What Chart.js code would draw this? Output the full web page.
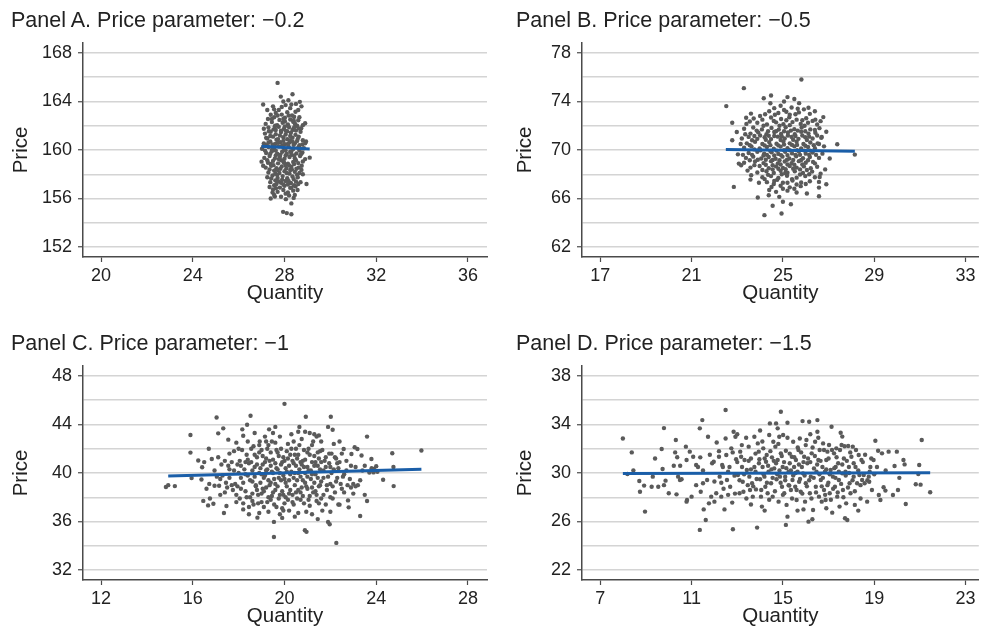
<!DOCTYPE html>
<html>
<head>
<meta charset="utf-8">
<title>Price vs Quantity</title>
<script src="https://cdn.jsdelivr.net/npm/chart.js@4.4.1/dist/chart.umd.min.js"></script>
<style>
  html, body { margin: 0; padding: 0; background: #fff; }
  #page { position: relative; width: 981px; height: 630px; overflow: hidden;
          font-family: "Liberation Sans", Arial, Helvetica, sans-serif; }
  .panel { position: absolute; }
  .panel canvas { position: absolute; left: 0; top: 0; }
  .panel-title { position: absolute; top: 8px; font-size: 21.5px; line-height: 24px;
                 color: #222; white-space: nowrap; }
</style>
</head>
<body>
<div id="page">
  <div class="panel" style="left:0;top:0;width:490px;height:307px">
    <canvas id="chart-a" width="490" height="307"></canvas>
    <div class="panel-title" id="title-a" style="left:11px"></div>
  </div>
  <div class="panel" style="left:490px;top:0;width:491px;height:307px">
    <canvas id="chart-b" width="491" height="307"></canvas>
    <div class="panel-title" id="title-b" style="left:26px"></div>
  </div>
  <div class="panel" style="left:0;top:323px;width:490px;height:307px">
    <canvas id="chart-c" width="490" height="307"></canvas>
    <div class="panel-title" id="title-c" style="left:11px"></div>
  </div>
  <div class="panel" style="left:490px;top:323px;width:491px;height:307px">
    <canvas id="chart-d" width="491" height="307"></canvas>
    <div class="panel-title" id="title-d" style="left:26px"></div>
  </div>
</div>
<script>
// ---- data ----
const panelTitles = [
  "Panel A. Price parameter: \u22120.2",
  "Panel B. Price parameter: \u22120.5",
  "Panel C. Price parameter: \u22121",
  "Panel D. Price parameter: \u22121.5",
];
const xAxisTitle = "Quantity";
const yAxisTitle = "Price";

const xTicksA = [20, 24, 28, 32, 36];
const xTicksB = [17, 21, 25, 29, 33];
const xTicksC = [12, 16, 20, 24, 28];
const xTicksD = [7, 11, 15, 19, 23];

const yTicksA = [152, 154, 156, 158, 160, 162, 164, 166, 168];
const yTicksB = [62, 64, 66, 68, 70, 72, 74, 76, 78];
const yTicksC = [32, 34, 36, 38, 40, 42, 44, 46, 48];
const yTicksD = [22, 24, 26, 28, 30, 32, 34, 36, 38];

const yLabelsA = [152, 156, 160, 164, 168];
const yLabelsB = [62, 66, 70, 74, 78];
const yLabelsC = [32, 36, 40, 44, 48];
const yLabelsD = [22, 26, 30, 34, 38];

// fitted regression lines [quantity, price]
const fitA = [[27.0, 160.3], [29.1, 160.08]];
const fitB = [[22.5, 70.05], [28.15, 69.9]];
const fitC = [[14.93, 39.75], [25.97, 40.3]];
const fitD = [[7.99, 29.95], [21.45, 30.03]];

// simulated observations [quantity, price]
const pointsA = [
  [27.70,165.53],[28.35,164.60],[27.07,163.75],[27.84,164.40],[28.17,164.10],[28.67,163.97],[28.74,163.60],
  [27.00,159.04],[27.07,158.70],[29.10,159.37],[28.96,157.20],[28.74,158.36],[27.40,156.00],[27.94,154.90],
  [28.10,154.80],[28.30,154.70],[28.06,155.95],[28.30,155.60],[28.80,160.80],[28.94,160.70],[28.80,162.05],
  [28.73,161.80],[28.57,156.70],[28.45,156.30],[27.58,156.16],[27.48,156.50],[27.63,156.85],
  [27.95,164.0],[28.05,163.7],[28.5,163.8],[28.6,163.3],[27.55,163.35],[27.4,162.9],
  [27.62,163.05],[27.88,162.92],[28.12,163.12],[28.33,162.85],[28.48,163.15],
  [27.28,162.55],[27.55,162.7],[27.78,162.48],[28.02,162.66],[28.25,162.52],[28.42,162.74],[28.6,162.45],
  [27.18,162.15],[27.45,162.3],[27.68,162.05],[27.92,162.25],[28.15,162.1],[28.38,162.32],[28.55,162.0],[28.9,162.2],
  [27.3,161.85],[27.52,161.7],[27.75,161.92],[27.98,161.75],[28.2,161.88],[28.35,161.65],[28.62,161.78],
  [27.15,161.35],[27.4,161.5],[27.62,161.3],[27.85,161.48],[28.05,161.28],[28.28,161.42],[28.48,161.25],[28.7,161.5],
  [27.25,160.95],[27.5,161.1],[27.72,160.9],[27.95,161.05],[28.12,160.88],[28.35,161.02],[28.58,160.92],
  [27.1,160.55],[27.38,160.7],[27.6,160.5],[27.82,160.65],[28.02,160.48],[28.22,160.62],[28.45,160.55],[28.65,160.4],
  [27.02,160.1],[27.3,160.25],[27.55,160.05],[27.75,160.3],[27.98,160.12],[28.18,160.28],[28.38,160.08],[28.6,160.2],[28.85,160.15],
  [27.2,159.75],[27.45,159.9],[27.68,159.7],[27.9,159.85],[28.1,159.68],[28.3,159.88],[28.52,159.72],[28.78,159.8],
  [27.12,159.35],[27.35,159.5],[27.58,159.3],[27.8,159.45],[28.0,159.28],[28.22,159.42],[28.45,159.32],[28.68,159.5],[28.9,159.25],
  [27.28,158.95],[27.5,159.1],[27.72,158.9],[27.95,159.05],[28.15,158.88],[28.38,159.02],[28.6,158.92],
  [27.18,158.55],[27.42,158.7],[27.65,158.5],[27.88,158.65],[28.08,158.48],[28.3,158.62],[28.52,158.45],[28.75,158.7],
  [27.3,158.15],[27.55,158.3],[27.78,158.1],[28.0,158.25],[28.22,158.05],[28.45,158.2],[28.65,158.1],
  [27.25,157.75],[27.48,157.9],[27.7,157.7],[27.92,157.85],[28.12,157.68],[28.35,157.82],[28.58,157.75],
  [27.38,157.35],[27.6,157.5],[27.85,157.3],[28.05,157.45],[28.28,157.28],[28.5,157.4],[28.7,157.35],
  [27.35,156.95],[27.55,157.1],[27.8,156.9],[28.0,157.05],[28.25,156.88],[28.48,157.0],
  [27.7,156.55],[27.95,156.7],[28.15,156.5],[28.38,156.65],
  [27.85,156.15],[28.2,156.25],[28.4,156.05],
  [27.5,163.6],[27.75,163.3],[28.25,163.45],[28.02,162.35],[27.6,162.0],[28.48,162.0],[27.85,161.6],[28.12,161.55],
  [27.38,161.15],[28.5,161.6],[27.65,160.85],[28.25,160.8],[27.9,160.4],[28.4,160.42],[27.45,160.0],[28.05,159.95],
  [28.65,159.95],[27.62,159.55],[28.3,159.6],[27.85,159.15],[28.5,159.15],[27.4,158.85],[28.05,158.75],[28.25,158.35],
  [27.7,158.35],[27.9,157.55],[28.4,157.6],[27.65,157.2],[28.15,157.15],[27.55,156.3],[28.6,157.2],[27.2,160.4],
  [28.8,159.05],[27.1,161.75],[28.8,158.0],
  [27.25,163.3],[27.45,162.55],[27.7,162.85],[27.95,162.55],[28.18,162.85],[28.4,162.45],[28.65,162.7],[27.32,161.55],
  [27.58,161.95],[27.8,161.2],[28.02,161.95],[28.25,161.15],[28.42,161.85],[28.62,161.1],[27.2,161.0],[27.48,160.45],
  [27.72,160.6],[27.95,160.75],[28.15,160.5],[28.35,160.7],[28.55,160.75],[28.78,160.45],[27.15,159.95],[27.38,159.7],
  [27.62,159.95],[27.82,159.62],[28.05,159.55],[28.25,159.85],[28.42,159.55],[28.72,159.65],[27.25,159.15],[27.52,158.75],
  [27.75,159.25],[27.98,158.95],[28.2,158.72],[28.42,158.85],[28.62,158.55],[27.35,158.4],[27.6,158.05],[27.82,158.45],
  [28.1,158.1],[28.32,158.4],[28.55,157.95],[27.42,157.65],[27.68,157.95],[27.95,157.15],[28.18,157.45],[28.42,157.1],
  [27.5,156.75],[27.75,157.4],[28.05,156.4],[28.3,156.9],[27.62,161.65],[28.05,161.58],[28.45,162.2],[27.88,163.55],
  [28.3,163.75],[27.3,160.6],[28.9,160.55],[27.08,160.3],
];

const pointsB = [
  [25.81,75.81],[23.29,75.10],[22.52,73.62],[22.78,72.25],[22.85,66.96],[27.38,70.47],[28.15,69.62],[24.19,64.63],
  [24.94,64.77],[24.55,65.40],[25.35,65.53],[25.00,65.73],[24.84,66.14],[23.90,66.08],[24.38,66.27],[26.05,66.41],
  [26.58,66.19],[26.58,66.90],[26.90,67.18],[24.16,74.27],[24.48,74.49],[25.20,74.36],[25.71,73.86],[26.12,73.48],
  [26.77,72.71],[26.65,72.38],[23.39,72.66],[22.98,71.48],[22.78,70.80],[23.03,69.64],[23.07,68.88],[23.17,68.74],
  [23.61,67.92],[23.58,67.56],[26.65,68.05],[26.61,67.78],[26.58,67.37],[26.50,71.20],[26.70,71.07],[26.58,70.50],
  [26.73,69.70],
  [24.62,73.45],[25.05,73.3],[25.38,73.5],[25.92,73.35],[24.9,73.65],
  [24.22,72.95],[24.8,73.05],[25.3,72.9],[25.7,73.1],[26.18,72.98],
  [23.72,72.6],[24.1,72.5],[24.48,72.68],[24.92,72.55],[25.28,72.7],[25.6,72.5],[26.02,72.62],[26.42,72.5],
  [23.4,72.15],[23.88,72.25],[24.3,72.1],[24.7,72.28],[25.02,72.12],[25.42,72.3],[25.78,72.15],[26.1,72.25],[26.5,72.1],
  [23.3,71.75],[23.7,71.85],[24.08,71.7],[24.5,71.82],[24.82,71.68],[25.12,71.88],[25.5,71.72],[25.82,71.85],[26.2,71.7],[26.6,71.8],
  [23.58,71.35],[23.92,71.45],[24.28,71.3],[24.62,71.48],[24.92,71.32],[25.22,71.45],[25.52,71.3],[25.8,71.5],[26.12,71.35],[26.42,71.42],
  [23.2,70.95],[23.5,71.08],[23.88,70.92],[24.2,71.05],[24.48,70.9],[24.78,71.1],[25.08,70.95],[25.38,71.08],[25.68,70.92],[25.98,71.05],[26.3,70.95],[26.68,71.0],
  [23.42,70.55],[23.78,70.68],[24.1,70.5],[24.4,70.65],[24.72,70.52],[25.02,70.7],[25.3,70.55],[25.6,70.68],[25.9,70.5],[26.2,70.62],[26.52,70.55],
  [23.3,70.18],[23.62,70.3],[23.98,70.12],[24.3,70.25],[24.6,70.1],[24.9,70.28],[25.2,70.15],[25.5,70.3],[25.8,70.12],[26.1,70.25],[26.4,70.15],
  [23.5,69.75],[23.88,69.85],[24.18,69.7],[24.5,69.82],[24.8,69.68],[25.1,69.85],[25.4,69.72],[25.7,69.88],[26.0,69.7],[26.3,69.8],
  [23.38,69.35],[23.7,69.45],[24.05,69.3],[24.38,69.42],[24.68,69.28],[24.98,69.45],[25.28,69.3],[25.58,69.48],[25.88,69.32],[26.18,69.42],[26.58,69.35],
  [23.3,68.95],[23.78,69.05],[24.15,68.92],[24.48,69.08],[24.78,68.9],[25.08,69.05],[25.38,68.92],[25.7,69.08],[26.0,68.95],[26.32,69.02],
  [23.58,68.55],[23.98,68.68],[24.38,68.5],[24.7,68.65],[25.0,68.52],[25.3,68.68],[25.6,68.55],[25.92,68.65],[26.22,68.5],[26.5,68.62],
  [23.88,68.15],[24.28,68.25],[24.6,68.1],[24.9,68.28],[25.2,68.12],[25.52,68.25],[25.88,68.1],[26.28,68.22],
  [24.1,67.75],[24.48,67.85],[24.8,67.7],[25.18,67.88],[25.6,67.72],[25.98,67.85],[26.4,67.75],
  [24.3,67.35],[24.62,67.45],[25.0,67.3],[25.42,67.48],[25.8,67.32],[26.18,67.42],
  [24.5,66.95],[24.9,67.05],[25.3,66.92],[25.78,67.02],
  [24.7,66.55],[25.2,66.65],[25.6,66.5],
  [24.65,72.9],[25.55,72.95],[24.35,71.55],[25.05,71.55],[25.65,71.6],[24.0,71.2],[24.62,71.15],[25.22,71.2],
  [25.85,71.2],[23.65,70.8],[24.25,70.85],[24.9,70.82],[25.45,70.85],[26.05,70.82],[24.45,70.4],[25.05,70.45],
  [25.62,70.42],[24.02,69.98],[24.72,69.95],[25.3,69.98],[25.95,69.95],[24.3,69.6],[24.92,69.58],[25.55,69.6],
  [26.15,69.6],[23.9,69.2],[24.55,69.18],[25.18,69.2],[25.8,69.18],[24.25,68.78],[24.9,68.8],[25.5,68.78],
  [24.55,68.4],[25.12,68.42],[25.75,68.4],[24.95,68.0],[25.4,67.6],[24.75,67.55],
  [24.4,73.2],[25.15,73.15],[25.65,73.4],[24.0,72.8],[24.6,72.4],[25.15,72.45],[25.85,72.45],[23.55,72.35],
  [24.15,72.0],[24.85,72.0],[25.3,72.05],[25.95,72.0],[26.3,72.4],[23.85,71.6],[24.7,71.55],[25.35,71.6],
  [25.98,71.55],[26.4,71.65],[23.75,71.15],[24.38,71.18],[24.95,71.12],[25.55,71.15],[26.15,71.1],[23.55,70.4],
  [24.2,70.38],[24.8,70.38],[25.4,70.42],[25.98,70.35],[26.35,70.4],[23.75,70.05],[24.45,69.92],[25.05,69.98],
  [25.62,69.98],[26.2,69.95],[23.65,69.6],[24.15,69.55],[24.62,69.55],[25.2,69.58],[25.75,69.6],[26.45,69.6],
  [23.55,69.15],[24.25,69.2],[24.85,69.15],[25.45,69.18],[26.1,69.15],[23.75,68.75],[24.55,68.75],[25.2,68.8],
  [25.85,68.8],[26.4,68.9],[24.1,68.35],[24.8,68.45],[25.45,68.45],[26.05,68.35],[24.35,67.95],[25.1,68.1],
  [25.75,67.98],[26.15,68.0],[24.6,67.2],[25.2,67.3],[25.6,67.15],[26.0,67.2],[24.2,67.6],[25.0,66.8],
  [25.5,66.8],[24.4,66.7],[23.95,67.3],[23.45,68.3],[23.25,69.6],[23.15,70.5],[23.35,71.3],[23.6,73.0],
  [24.45,73.85],[25.05,74.0],[25.5,74.2],[26.4,73.2],[26.8,70.3],[26.9,71.5],[27.05,69.3],[26.85,68.4],
];

const pointsC = [
  [14.83,38.84],[14.93,39.0],[15.22,38.92],[15.9,43.13],[15.9,41.68],[15.95,39.58],[16.24,41.03],[16.38,39.47],
  [16.41,40.48],[16.46,37.7],[16.6,38.7],[16.72,39.1],[16.67,37.33],[16.83,41.16],[16.9,37.47],[16.75,37.9],
  [17.04,44.58],[17.11,43.27],[17.11,41.3],[17.05,39.7],[17.15,38.95],[17.2,39.5],[17.25,40.7],[17.33,43.68],
  [17.36,36.7],[17.47,37.28],[17.4,38.4],[17.45,39.2],[17.55,42.75],[17.55,40.6],[17.6,41.6],[17.7,40.9],
  [17.75,38.6],[17.8,40.2],[17.85,39.1],[17.9,38.2],[17.95,40.7],[18.0,42.0],[18.05,41.0],[18.1,39.6],
  [18.16,43.6],[18.2,43.07],[18.2,37.0],[18.25,40.3],[18.3,38.5],[18.35,41.5],[18.37,43.98],[18.4,39.8],
  [18.45,36.6],[18.5,38.0],[18.52,44.72],[18.55,40.9],[18.6,37.7],[18.6,39.3],[18.65,42.2],[18.7,40.5],
  [18.75,38.9],[18.8,41.3],[18.82,36.32],[18.85,37.5],[18.9,40.0],[18.92,42.6],[18.95,39.2],[19.0,41.9],
  [19.0,38.3],[19.05,40.7],[19.1,37.2],[19.1,39.6],[19.15,43.0],[19.2,41.2],[19.2,38.8],[19.25,40.3],
  [19.3,42.3],[19.33,43.6],[19.35,39.0],[19.4,37.8],[19.4,41.7],[19.45,40.1],[19.5,38.4],[19.5,43.3],
  [19.54,34.73],[19.54,35.97],[19.55,39.5],[19.6,42.5],[19.6,40.8],[19.65,37.2],[19.7,38.9],[19.75,41.4],
  [19.8,40.0],[19.8,36.6],[19.85,42.0],[19.9,38.5],[19.95,39.8],[20.0,45.7],[20.0,41.0],[20.0,37.5],
  [20.05,40.4],[20.1,38.9],[20.15,42.4],[20.2,39.4],[20.2,36.9],[20.25,41.5],[20.3,40.1],[20.3,43.2],
  [20.35,38.2],[20.4,37.4],[20.4,40.8],[20.45,39.0],[20.5,42.0],[20.55,41.2],[20.6,38.6],[20.6,43.4],
  [20.65,40.3],[20.7,37.8],[20.7,39.7],[20.75,42.8],[20.8,41.0],[20.8,38.1],[20.85,40.5],[20.89,35.28],
  [20.93,44.64],[20.96,35.15],[20.9,39.2],[20.95,36.8],[21.0,41.7],[21.0,38.7],[21.05,40.2],[21.1,43.3],
  [21.1,37.3],[21.15,39.5],[21.2,42.3],[21.2,40.9],[21.25,38.4],[21.3,41.4],[21.35,39.9],[21.4,37.7],
  [21.4,43.0],[21.45,40.6],[21.5,43.1],[21.5,38.9],[21.55,41.8],[21.6,39.3],[21.65,36.9],[21.7,40.2],
  [21.75,41.0],[21.8,37.4],[21.85,38.6],[21.9,43.8],[21.9,35.97],[21.97,35.78],[21.95,40.8],[22.02,44.64],
  [22.0,39.1],[22.05,41.6],[22.1,43.57],[22.1,37.9],[22.15,40.3],[22.2,38.4],[22.25,41.2],[22.26,34.24],
  [22.3,39.6],[22.35,37.4],[22.4,37.39],[22.4,40.9],[22.5,38.7],[22.55,39.7],[22.58,41.98],[22.7,40.2],
  [22.77,37.74],[22.8,37.17],[22.85,39.5],[22.92,41.57],[23.0,38.3],[23.0,39.1],[23.06,42.12],[23.1,40.5],
  [23.18,41.98],[23.2,39.0],[23.3,36.46],[23.36,41.44],[23.5,40.6],[23.6,43.0],[23.6,37.69],[23.7,40.04],
  [23.79,41.16],[23.88,40.05],[23.9,40.34],[24.0,40.56],[24.05,40.1],[24.3,39.44],[24.7,41.63],[24.76,38.92],
  [24.75,40.5],[25.97,41.85],
  [18.1,40.6],[18.3,39.9],[18.45,40.8],[18.6,38.3],[18.7,39.7],[18.8,38.6],[18.9,41.7],[19.0,39.9],
  [19.05,38.7],[19.15,40.9],[19.25,37.6],[19.3,39.4],[19.4,40.6],[19.45,38.1],[19.5,41.1],[19.6,39.1],
  [19.65,41.9],[19.7,40.3],[19.75,37.9],[19.85,39.4],[19.9,40.9],[19.95,38.2],[20.05,39.2],[20.1,41.8],
  [20.15,37.8],[20.2,40.6],[20.25,38.6],[20.35,41.0],[20.45,40.0],[20.5,38.4],[20.55,39.4],[20.6,41.5],
  [20.7,40.9],[20.75,38.8],[20.85,41.9],[20.9,40.0],[21.0,39.7],[21.05,42.0],[21.1,38.1],[21.2,39.9],
  [21.3,40.6],[21.35,38.5],[21.45,41.7],[21.55,39.0],[21.6,40.9],[21.7,38.2],[21.8,41.3],[21.9,39.7],
  [22.0,40.5],[22.1,38.9],[22.2,41.3],[22.3,40.8],[22.45,39.1],[22.6,38.4],[22.7,41.0],[18.4,42.6],
  [18.7,43.3],[19.2,42.6],[19.8,43.0],[20.4,42.6],[20.9,43.4],[21.3,43.2],[17.9,37.6],[18.2,37.5],
  [18.9,36.7],[19.3,36.8],[19.9,36.3],[20.6,36.7],[21.2,36.6],[21.5,37.5],[17.3,39.8],[17.6,39.6],
  [17.2,38.2],[16.95,38.95],[16.5,40.9],[22.9,38.8],[23.1,38.9],[23.4,40.2],[23.8,40.4],
  [17.6,40.3],[17.7,39.0],[17.8,41.8],[17.95,38.9],[18.0,40.0],[18.05,37.9],[18.15,41.9],[18.2,39.2],
  [18.3,40.9],[18.35,38.0],[18.4,41.1],[18.5,39.4],[18.55,42.0],[18.6,40.2],[18.65,37.4],[18.7,41.5],
  [18.75,39.0],[18.8,40.7],[18.85,38.2],[18.9,42.3],[18.95,40.4],[19.0,37.6],[19.05,41.4],[19.1,38.5],
  [19.15,39.8],[19.2,40.2],[19.25,42.0],[19.3,38.0],[19.35,41.0],[19.4,39.2],[19.45,42.6],[19.5,40.0],
  [19.55,37.4],[19.6,38.6],[19.65,40.4],[19.7,41.7],[19.75,39.6],[19.8,38.2],[19.85,40.7],[19.9,37.1],
  [19.95,41.3],[20.0,39.5],[20.05,38.0],[20.1,40.1],[20.15,41.2],[20.2,38.3],[20.25,39.9],[20.3,42.0],
  [20.35,37.6],[20.4,39.6],[20.45,41.5],[20.5,40.6],[20.55,37.9],[20.6,40.0],[20.65,42.3],[20.7,38.4],
  [20.75,40.7],[20.8,39.4],[20.85,37.5],[20.9,41.1],[20.95,38.9],[21.0,40.5],[21.05,37.8],[21.1,41.5],
  [21.15,40.2],[21.2,38.8],[21.25,42.6],[21.3,39.2],[21.35,40.9],[21.4,38.2],[21.45,39.6],[21.5,41.2],
  [21.55,40.3],[21.6,37.9],[21.65,41.9],[21.7,39.6],[21.8,40.5],[21.85,39.0],[21.95,41.6],[22.0,38.0],
  [22.05,40.0],[22.15,42.4],[22.25,39.3],[22.35,40.4],[22.5,41.6],[22.6,39.9],[22.75,39.0],[22.9,40.6],
  [17.4,41.0],[17.5,38.8],[17.9,42.5],[18.1,38.7],[18.45,37.2],[19.95,36.9],[20.45,36.4],[21.45,36.2],
  [20.65,43.8],[19.6,43.8],[21.6,42.6],[22.4,42.6],[23.3,39.4],[16.95,40.2],[16.7,42.0],[23.5,38.2],
  [22.0,36.8],
];

const pointsD = [
  [7.99,32.85],[8.38,31.7],[8.45,30.2],[8.19,29.92],[8.71,29.34],[8.74,28.46],[8.92,28.96],[8.96,26.82],
  [9.25,28.87],[9.4,31.2],[9.54,28.87],[9.69,31.98],[9.73,30.33],[9.79,33.7],[9.86,29.37],[9.79,29.0],
  [10.0,28.33],[10.22,30.6],[10.28,31.7],[10.31,32.72],[10.34,28.24],[10.37,31.3],[10.41,29.7],[10.49,29.42],
  [10.56,29.48],[10.75,32.17],[10.78,31.07],[10.8,27.78],[10.78,27.64],[10.92,31.76],[11.0,28.05],[11.07,31.34],
  [11.2,30.66],[11.28,30.5],[11.36,33.68],[11.38,31.29],[11.47,34.36],[11.36,25.31],[11.4,28.46],[11.5,29.15],
  [11.53,27.0],[11.62,26.13],[11.68,29.42],[11.72,32.99],[11.76,27.5],[11.86,28.05],[11.9,30.8],[11.97,30.93],
  [12.0,27.64],[12.08,28.33],[12.1,32.52],[12.2,31.34],[12.23,29.7],[12.3,29.2],[12.3,28.05],[12.34,30.66],
  [12.37,30.5],[12.44,27.0],[12.49,35.19],[12.49,32.85],[12.52,31.48],[12.55,29.42],[12.6,28.2],[12.66,30.5],
  [12.69,28.87],[12.74,32.03],[12.78,27.56],[12.81,25.36],[12.84,33.4],[12.88,29.78],[12.92,32.99],[12.95,31.13],
  [13.03,29.84],[13.1,28.33],[13.13,31.76],[13.17,31.34],[13.21,30.5],[13.24,29.28],[13.27,28.46],[13.32,31.07],
  [13.39,32.9],[13.42,30.25],[13.46,29.0],[13.5,32.17],[13.53,29.7],[13.56,28.6],[13.6,31.2],[13.65,29.15],
  [13.68,28.05],[13.75,32.99],[13.75,30.5],[13.8,30.1],[13.82,28.65],[13.87,25.5],[13.9,32.44],[13.94,31.76],
  [13.97,31.13],[14.0,29.48],[14.04,28.05],[14.08,27.23],[14.11,30.5],[14.14,32.03],[14.19,29.7],[14.23,28.87],
  [14.26,30.93],[14.29,31.48],[14.33,28.33],[14.37,30.1],[14.4,33.13],[14.43,34.09],[14.48,29.15],[14.52,31.29],
  [14.55,28.05],[14.58,32.58],[14.62,30.38],[14.67,32.17],[14.7,34.09],[14.72,29.48],[14.77,31.07],[14.77,33.68],
  [14.81,27.64],[14.84,32.99],[14.87,29.7],[14.91,35.05],[14.91,31.62],[14.96,28.87],[14.99,30.5],[15.01,33.13],
  [15.06,28.33],[15.1,29.7],[15.13,31.84],[15.13,25.72],[15.16,27.37],[15.2,26.4],[15.2,34.14],[15.25,30.1],
  [15.28,28.96],[15.3,30.8],[15.35,28.6],[15.39,31.34],[15.42,29.42],[15.45,32.58],[15.49,30.5],[15.54,28.87],
  [15.57,31.07],[15.6,27.78],[15.64,30.1],[15.64,26.9],[15.68,31.89],[15.71,29.28],[15.74,32.85],[15.78,28.46],
  [15.83,30.5],[15.86,34.28],[15.88,29.97],[15.93,31.34],[15.97,27.64],[16.0,29.15],[16.03,32.72],[16.07,30.8],
  [16.12,25.99],[16.15,34.23],[16.18,28.33],[16.22,29.7],[16.26,31.62],[16.29,26.19],[16.32,26.95],[16.36,30.38],
  [16.41,32.58],[16.44,28.87],[16.47,30.1],[16.51,34.36],[16.51,33.4],[16.55,31.07],[16.58,28.05],[16.61,31.89],
  [16.66,29.42],[16.7,27.64],[16.73,30.5],[16.76,32.44],[16.8,28.6],[16.84,30.1],[16.87,27.78],[16.9,31.07],
  [16.95,31.76],[16.99,29.2],[17.02,32.31],[17.05,28.33],[17.09,30.25],[17.13,33.81],[17.16,26.73],[17.19,29.7],
  [17.24,31.62],[17.28,28.87],[17.31,30.5],[17.34,32.03],[17.38,28.05],[17.42,30.8],[17.45,29.42],[17.48,27.23],
  [17.53,33.32],[17.57,32.31],[17.6,29.97],[17.63,28.6],[17.67,31.2],[17.72,26.27],[17.74,30.1],[17.77,27.5],
  [17.82,26.13],[17.86,32.22],[17.89,30.5],[17.92,29.15],[17.96,28.33],[18.0,31.34],[18.06,32.17],[18.1,29.7],
  [18.15,27.37],[18.18,30.5],[18.25,29.15],[18.3,26.9],[18.32,31.48],[18.35,29.84],[18.44,31.07],[18.47,29.42],
  [18.54,29.84],[18.58,29.15],[18.69,27.64],[18.76,29.7],[18.78,29.28],[18.83,30.5],[18.87,31.2],[18.97,31.07],
  [19.05,32.66],[19.12,30.5],[19.17,31.84],[19.2,28.19],[19.27,27.78],[19.34,31.62],[19.41,28.82],[19.49,28.55],
  [19.63,31.76],[19.82,28.19],[19.89,30.58],[19.99,31.76],[20.04,28.6],[20.28,31.07],[20.33,30.71],[20.38,27.45],
  [20.82,29.07],[20.93,29.92],[20.97,30.66],[21.03,29.04],[21.08,32.72],[21.45,28.41],
  [12.6,30.1],[12.8,31.7],[12.9,28.3],[13.0,30.9],[13.1,29.4],[13.2,32.3],[13.3,29.9],[13.4,27.9],
  [13.5,31.0],[13.6,30.3],[13.7,28.9],[13.8,31.6],[13.85,29.5],[13.95,30.8],[14.05,28.6],[14.1,32.6],
  [14.15,29.9],[14.2,31.2],[14.3,29.2],[14.35,30.6],[14.4,27.8],[14.45,31.8],[14.5,30.3],[14.55,29.6],
  [14.6,31.0],[14.65,28.5],[14.7,30.8],[14.75,29.9],[14.8,32.4],[14.85,30.2],[14.9,29.2],[14.95,31.4],
  [15.0,28.2],[15.05,30.9],[15.1,29.4],[15.15,30.4],[15.2,32.9],[15.25,29.0],[15.3,31.6],[15.35,30.2],
  [15.4,27.9],[15.45,29.8],[15.5,31.3],[15.55,30.0],[15.6,28.6],[15.65,32.1],[15.7,30.7],[15.75,29.5],
  [15.8,31.7],[15.85,28.3],[15.9,30.9],[15.95,29.8],[16.0,32.3],[16.05,28.9],[16.1,31.2],[16.15,29.4],
  [16.2,30.9],[16.25,27.9],[16.3,32.1],[16.35,29.6],[16.4,31.4],[16.45,28.4],[16.5,30.7],[16.55,32.9],
  [16.6,29.9],[16.65,31.0],[16.7,28.9],[16.75,29.6],[16.8,31.9],[16.85,28.2],[16.9,30.3],[16.95,29.0],
  [17.0,31.2],[17.05,29.9],[17.1,27.8],[17.15,31.9],[17.2,28.7],[17.25,30.4],[17.3,29.6],[17.35,31.3],
  [17.4,28.4],[17.45,30.1],[17.5,31.9],[17.55,29.1],[17.6,30.7],[17.65,28.0],[17.7,32.2],[17.75,29.8],
  [17.8,31.0],[17.85,28.8],[17.9,30.0],[17.95,31.7],[18.05,29.4],[18.1,30.8],[18.15,28.5],[18.2,31.9],
  [18.3,30.2],[18.4,29.0],[18.5,30.9],[18.6,31.5],[18.7,29.4],[18.8,30.1],[18.9,28.6],[19.0,29.9],
  [12.2,31.8],[12.0,29.3],[11.8,31.5],[11.5,30.2],[12.4,28.7],[13.6,27.4],[14.2,26.9],[15.9,27.0],
  [16.9,27.1],[18.4,27.9],[13.0,33.2],[14.0,33.5],[16.2,33.2],[17.6,33.0],[19.5,30.2],[20.1,29.6],
  [11.2,29.0],[10.5,30.6],[9.3,29.7],
];

const BLUE = "#1a5ea8";
const DOT = "#5a5a5a";
const AXIS = "#4a4a4a";
const GRID = "#d4d4d4";
const TEXT = "#222222";

Chart.defaults.font.family = '"Liberation Sans", Arial, Helvetica, sans-serif';

document.getElementById("title-a").textContent = panelTitles[0];
document.getElementById("title-b").textContent = panelTitles[1];
document.getElementById("title-c").textContent = panelTitles[2];
document.getElementById("title-d").textContent = panelTitles[3];

// frame: pixel geometry of each panel's plot box
const leftFrame = { yWidth: 83, padRight: 3, yTitlePad: 9 };
const rightFrame = { yWidth: 92, padRight: 0, yTitlePad: 23 };

buildPanel("chart-a", pointsA, fitA, [19.215, 36.83], xTicksA, [151.18, 168.82], yTicksA, yLabelsA, leftFrame);
buildPanel("chart-b", pointsB, fitB, [16.2, 33.58], xTicksB, [61.18, 78.82], yTicksB, yLabelsB, rightFrame);
buildPanel("chart-c", pointsC, fitC, [11.215, 28.83], xTicksC, [31.18, 48.82], yTicksC, yLabelsC, leftFrame);
buildPanel("chart-d", pointsD, fitD, [6.2, 23.58], xTicksD, [21.18, 38.82], yTicksD, yLabelsD, rightFrame);

function toXY(pairs) {
  return pairs.map(([x, y]) => ({ x, y }));
}

function buildPanel(canvasId, points, fit, xRange, xTicks, yRange, yTicks, yLabels, frame) {
  new Chart(document.getElementById(canvasId), {
    type: "scatter",
    data: {
      datasets: [
        {
          data: toXY(fit),
          showLine: true,
          borderColor: BLUE,
          borderWidth: 3,
          pointRadius: 0,
          pointHoverRadius: 0,
        },
        {
          data: toXY(points),
          pointRadius: 2.2,
          pointHoverRadius: 2.2,
          pointBackgroundColor: DOT,
          pointBorderWidth: 0,
        },
      ],
    },
    options: {
      responsive: false,
      animation: false,
      events: [],
      layout: { padding: { top: 43, right: frame.padRight, bottom: 0, left: 0 } },
      plugins: { legend: { display: false }, tooltip: { enabled: false } },
      scales: {
        x: {
          type: "linear",
          min: xRange[0],
          max: xRange[1],
          afterBuildTicks: (scale) => {
            scale.ticks = xTicks.map((v) => ({ value: v }));
          },
          afterFit: (scale) => {
            scale.height = 50;
          },
          grid: { drawOnChartArea: false, drawTicks: true, tickLength: 5, tickColor: AXIS, tickWidth: 1.2 },
          border: { display: true, color: AXIS, width: 1.5 },
          ticks: { color: TEXT, font: { size: 18 }, padding: 3, maxRotation: 0, autoSkip: false },
          title: { display: true, text: xAxisTitle, color: TEXT, font: { size: 20.5 }, padding: { top: 0, bottom: 1 } },
        },
        y: {
          type: "linear",
          min: yRange[0],
          max: yRange[1],
          afterBuildTicks: (scale) => {
            scale.ticks = yTicks.map((v) => ({ value: v }));
          },
          afterFit: (scale) => {
            scale.width = frame.yWidth;
          },
          grid: {
            color: GRID,
            lineWidth: 1.5,
            drawTicks: true,
            tickLength: 5,
            tickWidth: 1.2,
            tickColor: (ctx) => (ctx.tick && yLabels.includes(ctx.tick.value) ? AXIS : "rgba(0,0,0,0)"),
          },
          border: { display: true, color: AXIS, width: 1.5 },
          ticks: {
            color: TEXT,
            font: { size: 18 },
            padding: 6,
            autoSkip: false,
            callback: (value) => (yLabels.includes(value) ? String(value) : ""),
          },
          title: { display: true, text: yAxisTitle, color: TEXT, font: { size: 20.5 }, padding: { top: frame.yTitlePad, bottom: 0 } },
        },
      },
    },
  });
}
</script>
</body>
</html>
